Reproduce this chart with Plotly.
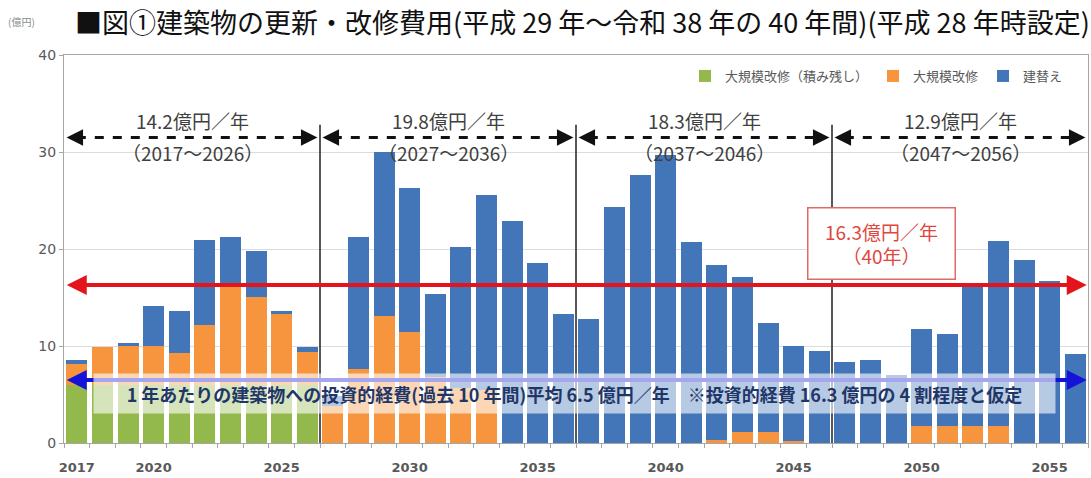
import plotly.graph_objects as go

# 建築物の更新・改修費用（億円）
years = list(range(2017, 2057))

backlog = [6.0, 6.0, 6.0, 6.0, 6.0, 6.0, 6.0, 6.0, 6.0, 6.0,
           0, 0, 0, 0, 0, 0, 0, 0, 0, 0,
           0, 0, 0, 0, 0, 0, 0, 0, 0, 0,
           0, 0, 0, 0, 0, 0, 0, 0, 0, 0]

renovation = [2.1, 3.9, 4.1, 4.0, 3.3, 6.2, 10.5, 9.1, 7.3, 3.4,
              3.8, 7.6, 13.1, 11.4, 6.8, 5.7, 5.5, 0, 0, 0,
              0, 0, 0, 0, 0, 0.3, 1.1, 1.1, 0.2, 0,
              0, 0, 0, 1.8, 1.8, 1.8, 1.8, 0, 0, 0]

rebuild = [0.5, 0, 0.2, 4.1, 4.3, 8.7, 4.7, 4.7, 0.3, 0.5,
           1.0, 13.6, 16.9, 14.9, 8.6, 14.5, 20.1, 22.9, 18.6, 13.3,
           12.8, 24.3, 27.6, 29.7, 20.7, 18.0, 16.0, 11.3, 9.8, 9.5,
           8.3, 8.6, 7.0, 10.0, 9.4, 14.6, 19.0, 18.9, 16.7, 9.2]

series_names = ["大規模改修（積み残し）", "大規模改修", "建替え"]
series_colors = ["#93b84c", "#f7953f", "#4375b9"]

# 10年ごとの期間と年平均
period_starts = [2017, 2027, 2037, 2047]
period_ends = [2026, 2036, 2046, 2056]
period_avgs = ["14.2", "19.8", "18.3", "12.9"]

overall_avg = 16.3
past_avg = 6.5

tick_years = [2017, 2020, 2025, 2030, 2035, 2040, 2045, 2050, 2055]

jp_font = "Noto Sans CJK JP"
num_font = "DejaVu Sans"
axis_gray = "#595959"

W, H = 1091, 478
ML, MR, MT, MB = 64, 3, 55, 35
plot_w, plot_h = W - ML - MR, H - MT - MB


def px_x(px):
    return (px - ML) / plot_w


def px_y(py):
    return (H - MB - py) / plot_h


fig = go.Figure()
for name, vals, color in zip(series_names, [backlog, renovation, rebuild], series_colors):
    fig.add_trace(go.Bar(x=years, y=vals, name=name, marker=dict(color=color, line=dict(width=0))))

x_lo, x_hi = years[0] - 0.5, years[-1] + 0.5
arrow_y = 31.5

shapes = []
annotations = []

# 期間区切りの縦線
for s in period_starts[1:]:
    shapes.append(dict(type="line", xref="x", yref="y", x0=s - 0.5, x1=s - 0.5, y0=0, y1=32.8,
                       line=dict(color="#202020", width=1.5)))

for s, e, avg in zip(period_starts, period_ends, period_avgs):
    left, right = s - 0.5, e + 0.5
    shapes.append(dict(type="line", xref="x", yref="y", x0=left + 0.5, x1=right - 0.5,
                       y0=arrow_y, y1=arrow_y, line=dict(color="#111111", width=3, dash="dash")))
    for tip, tail in [(left + 0.1, left + 0.6), (right - 0.1, right - 0.6)]:
        annotations.append(dict(x=tip, y=arrow_y, ax=tail, ay=arrow_y, xref="x", yref="y",
                                axref="x", ayref="y", text="", showarrow=True, arrowhead=2,
                                arrowsize=1.1, arrowwidth=3, arrowcolor="#111111"))
    mid = (left + right) / 2
    annotations.append(dict(x=mid, y=33.2, xref="x", yref="y", text=f"{avg}億円／年", showarrow=False,
                            font=dict(family=jp_font, size=19, color="#404040")))
    annotations.append(dict(x=mid, y=29.9, xref="x", yref="y", text=f"（{s}～{e}）", showarrow=False,
                            font=dict(family=jp_font, size=19, color="#404040")))

# 40年平均（赤）と過去10年平均（青）の両矢印
for yv, col in [(overall_avg, "#e3141b"), (past_avg, "#1414d8")]:
    annotations.append(dict(x=x_hi - 0.05, y=yv, ax=x_lo + 0.05, ay=yv, xref="x", yref="y",
                            axref="x", ayref="y", text="", showarrow=True, arrowhead=2,
                            arrowside="end+start", arrowsize=1.0, arrowwidth=4, arrowcolor=col))

annotations.append(dict(x=2048.45, y=20.6, xref="x", yref="y",
                        text=f"{overall_avg}億円／年<br>（40年）", showarrow=False,
                        font=dict(family=jp_font, size=19, color="#e0483e"),
                        bgcolor="white", bordercolor="#e06a66", borderwidth=1.5,
                        width=144, height=68, align="center"))

annotations.append(dict(x=px_x(574), y=px_y(414), xref="paper", yref="paper",
                        text=f"<b>1 年あたりの建築物への投資的経費(過去 10 年間)平均 {past_avg} 億円／年　※投資的経費 {overall_avg} 億円の 4 割程度と仮定</b>",
                        showarrow=False, font=dict(family=jp_font, size=18, color="#1f3768"),
                        bgcolor="rgba(255,255,255,0.62)", width=959, height=37))

# タイトルと単位
annotations.append(dict(x=px_x(73), y=px_y(21), xref="paper", yref="paper", xanchor="left",
                        yanchor="middle",
                        text="■図①建築物の更新・改修費用(平成 29 年～令和 38 年の 40 年間)(平成 28 年時設定)",
                        showarrow=False, font=dict(family=jp_font, size=27, color="#111111")))
annotations.append(dict(x=px_x(6), y=px_y(21), xref="paper", yref="paper", xanchor="left",
                        yanchor="middle", text="(億円)", showarrow=False,
                        font=dict(family=jp_font, size=10, color="#8a8a8a")))

fig.update_layout(
    width=W, height=H,
    margin=dict(l=ML, r=MR, t=MT, b=MB),
    paper_bgcolor="white", plot_bgcolor="white",
    barmode="stack", bargap=0.18,
    shapes=shapes, annotations=annotations,
    legend=dict(orientation="h", x=px_x(1068), xanchor="right", y=px_y(76), yanchor="middle",
                font=dict(family=jp_font, size=13, color=axis_gray), bgcolor="rgba(0,0,0,0)",
                traceorder="normal"),
    xaxis=dict(range=[x_lo, x_hi], tickvals=tick_years, ticks="", showgrid=False,
               ticklabelstandoff=12,
               tickfont=dict(family=num_font, size=13, color=axis_gray, weight="bold"),
               showline=True, linecolor="#a6a6a6", linewidth=1, mirror=True,
               minor=dict(tick0=2016.5, dtick=1, ticks="outside", ticklen=4, tickcolor="#a6a6a6")),
    yaxis=dict(range=[0, 40], tickvals=[0, 10, 20, 30, 40], showgrid=True, gridcolor="#dcdcdc",
               ticks="outside", ticklen=4, tickcolor="#a6a6a6", zeroline=False,
               tickfont=dict(family=num_font, size=14, color=axis_gray),
               showline=True, linecolor="#a6a6a6", linewidth=1, mirror=True),
)

fig.write_html("out.html")
